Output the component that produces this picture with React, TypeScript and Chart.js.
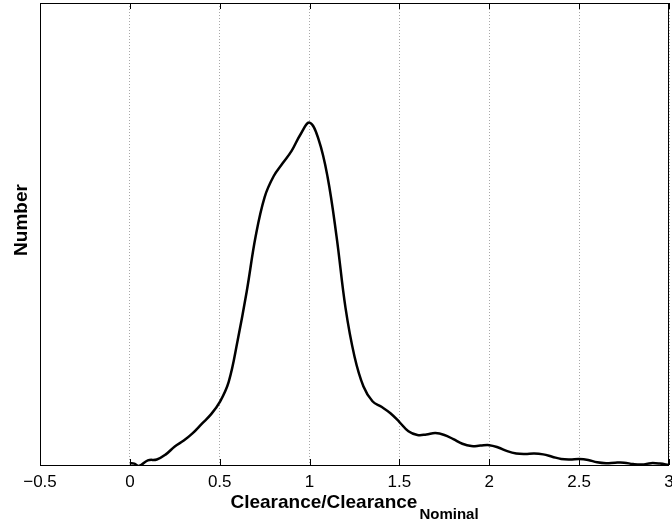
import React, { useEffect, useRef } from "react";
import { Chart, registerables } from "chart.js";

Chart.register(...registerables);

const clearanceRatio = [
  0, 0.025, 0.05, 0.1, 0.15, 0.2, 0.25, 0.3, 0.35, 0.4, 0.45, 0.5, 0.55, 0.6, 0.65, 0.7, 0.75, 0.8,
  0.85, 0.9, 0.95, 1.0, 1.05, 1.1, 1.15, 1.2, 1.25, 1.3, 1.35, 1.4, 1.45, 1.5, 1.55, 1.6, 1.65,
  1.7, 1.75, 1.8, 1.85, 1.9, 1.95, 2.0, 2.05, 2.1, 2.15, 2.2, 2.25, 2.3, 2.35, 2.4, 2.45, 2.5,
  2.55, 2.6, 2.65, 2.7, 2.75, 2.8, 2.85, 2.9, 2.95, 3.0,
];
const numberValues = [
  0.4, 0.3, -0.2, 1.0, 1.2, 2.3, 4.0, 5.3, 6.9, 8.9, 10.9, 13.6, 18.0, 27, 37.5, 49.5, 58, 62.5,
  65.3, 68, 71.6, 74.1, 70.5, 62.4, 49.5, 34, 23.5, 17, 13.8, 12.6, 11.2, 9.3, 7.3, 6.5, 6.6,
  6.9, 6.5, 5.6, 4.6, 4.1, 4.2, 4.3, 3.8, 3.0, 2.5, 2.4, 2.5, 2.3, 1.8, 1.3, 1.2, 1.3,
  1.1, 0.6, 0.4, 0.5, 0.5, 0.2, 0.1, 0.4, 0.3, 0.0,
];
const xTickValues = [-0.5, 0, 0.5, 1, 1.5, 2, 2.5, 3];
const xTickLabels = ["\u22120.5", "0", "0.5", "1", "1.5", "2", "2.5", "3"];
const xTitleMain = "Clearance/Clearance";
const xTitleSub = "Nominal";
const yTitle = "Number";

const FONT = "'Liberation Sans', Arial, Helvetica, sans-serif";

const framePlugin = {
  id: "frame",
  afterDatasetsDraw(chart: any) {
    const { ctx, chartArea } = chart;
    const xs = chart.scales.x;
    ctx.save();
    ctx.strokeStyle = "#000";
    ctx.lineWidth = 1;
    ctx.setLineDash([]);
    ctx.strokeRect(
      Math.round(chartArea.left) + 0.5,
      Math.round(chartArea.top) + 0.5,
      Math.round(chartArea.right - chartArea.left) - 1,
      Math.round(chartArea.bottom - chartArea.top)
    );
    ctx.beginPath();
    xTickValues.forEach((v) => {
      const px = Math.round(xs.getPixelForValue(v)) + 0.5;
      ctx.moveTo(px, chartArea.bottom);
      ctx.lineTo(px, chartArea.bottom - 6);
      ctx.moveTo(px, chartArea.top);
      ctx.lineTo(px, chartArea.top + 6);
    });
    ctx.stroke();
    ctx.restore();
  },
  afterDraw(chart: any) {
    const { ctx, chartArea } = chart;
    ctx.save();
    ctx.fillStyle = "#000";
    ctx.font = `bold 19px ${FONT}`;
    const w1 = ctx.measureText(xTitleMain).width;
    ctx.font = `bold 15px ${FONT}`;
    const w2 = ctx.measureText(xTitleSub).width;
    const cx = (chartArea.left + chartArea.right) / 2;
    const start = cx - (w1 + w2 + 2) / 2;
    ctx.textAlign = "left";
    ctx.textBaseline = "alphabetic";
    ctx.font = `bold 19px ${FONT}`;
    ctx.fillText(xTitleMain, start, 508);
    ctx.font = `bold 15px ${FONT}`;
    ctx.fillText(xTitleSub, start + w1 + 2, 519);
    ctx.translate(27, 220);
    ctx.rotate(-Math.PI / 2);
    ctx.textAlign = "center";
    ctx.font = `bold 19px ${FONT}`;
    ctx.fillText(yTitle, 0, 0);
    ctx.restore();
  },
};

export default function App() {
  const ref = useRef<HTMLCanvasElement>(null);
  useEffect(() => {
    if (!ref.current) return;
    const points = clearanceRatio.map((x, i) => ({ x, y: numberValues[i] }));
    const chart = new Chart(ref.current, {
      type: "line",
      data: {
        datasets: [
          {
            data: points,
            borderColor: "#000",
            borderWidth: 2.5,
            pointRadius: 0,
            fill: false,
            tension: 0.4,
          },
        ],
      },
      options: {
        animation: false,
        responsive: false,
        maintainAspectRatio: false,
        layout: { padding: { top: 3, right: 3, left: 0, bottom: 0 } },
        plugins: { legend: { display: false }, tooltip: { enabled: false } },
        scales: {
          x: {
            type: "linear",
            min: -0.5,
            max: 3,
            afterBuildTicks: (s: any) => {
              s.ticks = xTickValues.map((v) => ({ value: v }));
            },
            afterFit: (s: any) => {
              s.height = 57;
              s.paddingLeft = 0;
              s.paddingRight = 0;
            },
            ticks: {
              autoSkip: false,
              maxRotation: 0,
              padding: 7,
              color: "#000",
              font: { family: FONT, size: 17 },
              callback: (v: any) => {
                const i = xTickValues.indexOf(Number(v));
                return i >= 0 ? xTickLabels[i] : "";
              },
            },
            grid: { color: "#a8a8a8", lineWidth: 1, drawTicks: false },
            border: { display: false, dash: [1, 2] },
          },
          y: {
            type: "linear",
            min: 0,
            max: 100,
            afterFit: (s: any) => {
              s.width = 40;
            },
            ticks: { display: false },
            grid: { display: false },
            border: { display: false },
          },
        },
      },
      plugins: [framePlugin],
    });
    return () => chart.destroy();
  }, []);
  return (
    <div style={{ position: "fixed", left: 0, top: 0, width: 672, height: 522, background: "#fff" }}>
      <canvas ref={ref} width={672} height={522} style={{ display: "block" }} />
    </div>
  );
}
